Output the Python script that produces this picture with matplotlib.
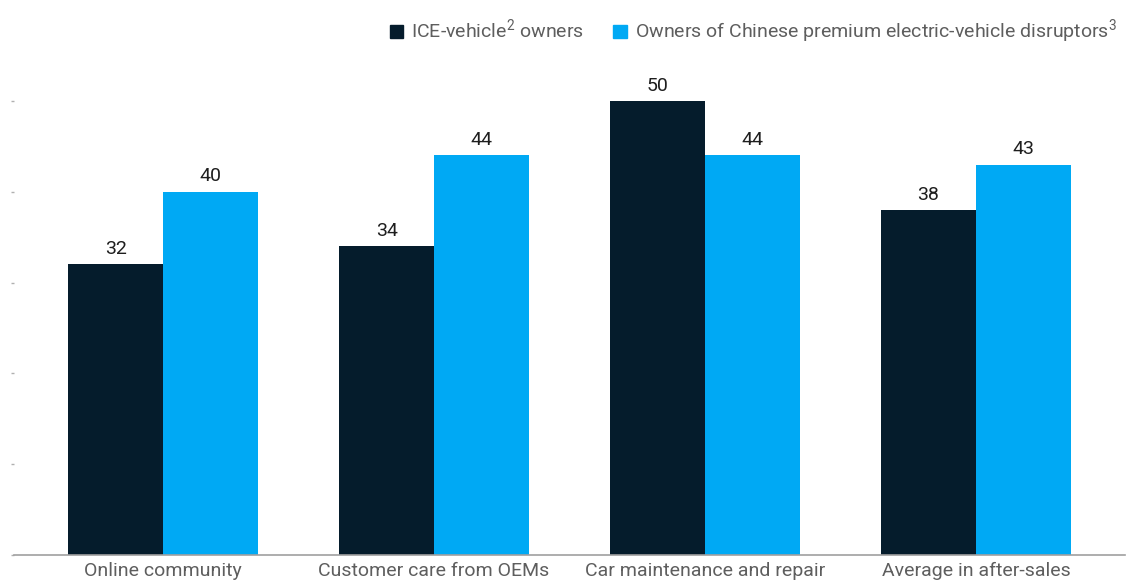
import matplotlib
matplotlib.use("Agg")
import matplotlib.pyplot as plt
import numpy as np
from matplotlib.patches import Patch

# -------------------------
# DATA
# -------------------------

categories = ["Online community", "Customer care from OEMs",
              "Car maintenance and repair", "Average in after-sales"]
ice_owners = [32, 34, 50, 38]
ev_owners = [40, 44, 44, 43]
series_labels = ["ICE-vehicle$^{2}$ owners",
                 "Owners of Chinese premium electric-vehicle disruptors$^{3}$"]

DARK = "#051c2c"
BLUE = "#00a9f4"
GREY_TEXT = "#5e5e5e"

plt.rcParams["font.family"] = ["Roboto", "DejaVu Sans"]
plt.rcParams["mathtext.fontset"] = "custom"
plt.rcParams["mathtext.rm"] = "Roboto"

# -------------------------
# PLOT
# -------------------------

fig = plt.figure(figsize=(11.34, 5.86), dpi=100)
ax = fig.add_axes([14 / 1134, 31 / 586, 1111 / 1134, 454 / 586])

x = np.arange(len(categories))
w = 0.35
b1 = ax.bar(x - w / 2, ice_owners, w, color=DARK)
b2 = ax.bar(x + w / 2, ev_owners, w, color=BLUE)

for bars, vals in ((b1, ice_owners), (b2, ev_owners)):
    for rect, v in zip(bars, vals):
        ax.text(rect.get_x() + rect.get_width() / 2, v + 0.7, str(v),
                ha="center", va="bottom", fontsize=14, color="#1e1e1e",
                clip_on=False)

ax.set_xlim(-0.55, 3.55)
ax.set_ylim(0, 50)
ax.set_yticks(range(0, 51, 10))
ax.set_yticklabels([])
ax.tick_params(axis="y", length=2, width=1, color="#b0b0b0", direction="out")
ax.set_xticks(x)
ax.set_xticklabels(categories, fontsize=14, color=GREY_TEXT)
ax.tick_params(axis="x", length=0, pad=5)

for s in ("top", "right", "left"):
    ax.spines[s].set_visible(False)
ax.spines["bottom"].set_color("#a0a0a0")
ax.spines["bottom"].set_linewidth(1.2)

handles = [Patch(color=DARK), Patch(color=BLUE)]
leg = fig.legend(handles, series_labels, loc="upper right",
                 bbox_to_anchor=(1.0, 1.0), ncol=2, frameon=False,
                 fontsize=14, handlelength=0.7, handleheight=0.7,
                 handletextpad=0.4, columnspacing=1.5, borderaxespad=0.5)
for t in leg.get_texts():
    t.set_color(GREY_TEXT)

fig.savefig("out.png", dpi=100)
